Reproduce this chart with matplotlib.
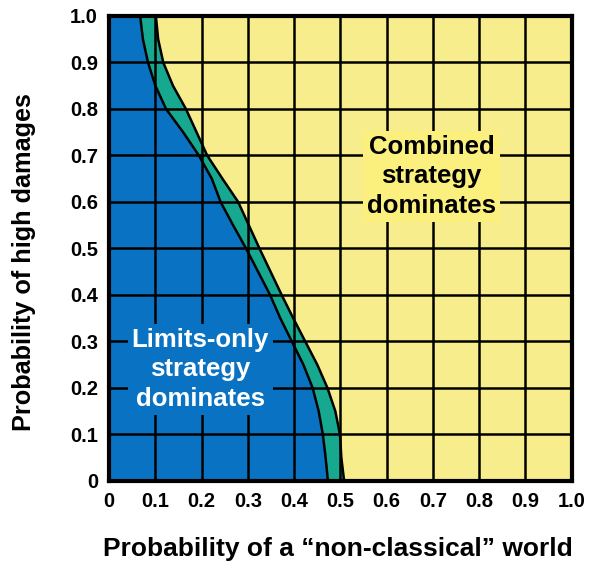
import matplotlib.pyplot as plt
import numpy as np

# valeurs
y_niveaux = [1.0, 0.95, 0.9, 0.85, 0.8, 0.75, 0.7, 0.65, 0.6, 0.55, 0.5,
             0.45, 0.4, 0.35, 0.3, 0.25, 0.2, 0.15, 0.1, 0.05, 0.0]
x_gauche = [0.067, 0.073, 0.084, 0.100, 0.123, 0.160, 0.194, 0.222, 0.241, 0.268, 0.296,
            0.322, 0.348, 0.370, 0.395, 0.420, 0.440, 0.453, 0.462, 0.468, 0.473]
x_droite = [0.101, 0.106, 0.117, 0.138, 0.166, 0.189, 0.212, 0.245, 0.279, 0.302, 0.325,
            0.349, 0.373, 0.398, 0.424, 0.450, 0.472, 0.489, 0.499, 0.502, 0.508]

ticks = np.round(np.arange(0, 1.01, 0.1), 1)
xlabels = ['0'] + [f'{t:.1f}' for t in ticks[1:]]
ylabels = ['0'] + [f'{t:.1f}' for t in ticks[1:]]

bleu = '#0a72c2'
vert = '#17a98f'
jaune = '#f8ed8c'

plt.rcParams['font.family'] = ['Liberation Sans', 'DejaVu Sans']
plt.rcParams['font.weight'] = 'bold'

fig = plt.figure(figsize=(5.9, 5.65), dpi=100)
ax = fig.add_axes([0.185, 0.1487, 0.784, 0.823])

y = np.array(y_niveaux)
xg = np.array(x_gauche)
xd = np.array(x_droite)

ax.fill_betweenx(y, 0, xg, color=bleu, lw=0, zorder=1)
ax.fill_betweenx(y, xg, xd, color=vert, lw=0, zorder=1)
ax.fill_betweenx(y, xd, 1, color=jaune, lw=0, zorder=1)
ax.plot(xg, y, color='black', lw=1.8, zorder=3, solid_joinstyle='round')
ax.plot(xd, y, color='black', lw=1.8, zorder=3, solid_joinstyle='round')

for t in ticks[1:-1]:
    ax.axvline(t, color='black', lw=1.8, zorder=2)
    ax.axhline(t, color='black', lw=1.8, zorder=2)

ax.text(0.197, 0.24, 'Limits-only\nstrategy\ndominates', color='white', fontsize=18.5,
        fontweight='bold', ha='center', va='center', linespacing=1.3, zorder=4,
        bbox=dict(boxstyle='square,pad=0.15', fc=bleu, ec='none'))
ax.text(0.697, 0.655, 'Combined\nstrategy\ndominates', color='black', fontsize=18.5,
        fontweight='bold', ha='center', va='center', linespacing=1.28, zorder=4,
        bbox=dict(boxstyle='square,pad=0.15', fc='#fbf07e', ec='none'))

ax.set_xlim(0, 1)
ax.set_ylim(0, 1)
ax.set_xticks(ticks)
ax.set_yticks(ticks)
ax.set_xticklabels(xlabels)
ax.set_yticklabels(ylabels)
ax.tick_params(length=0, labelsize=14.5, pad=8)
for s in ax.spines.values():
    s.set_linewidth(3)
    s.set_zorder(5)

ax.set_xlabel('Probability of a \u201cnon-classical\u201d world', fontsize=19, fontweight='bold')
ax.xaxis.set_label_coords(0.495, -0.12)
ax.set_ylabel('Probability of high damages', fontsize=18.2, fontweight='bold')
ax.yaxis.set_label_coords(-0.158, 0.47)

fig.savefig('out.png', dpi=100)
